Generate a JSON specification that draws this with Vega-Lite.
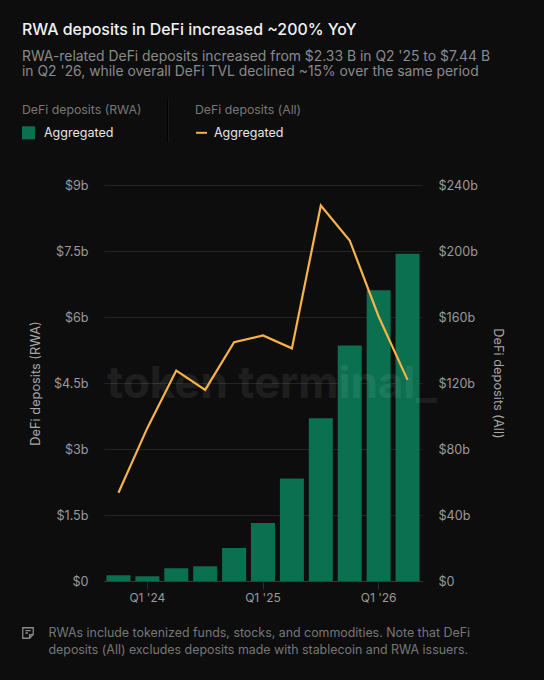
{
"$schema":"https://vega.github.io/schema/vega-lite/v6.json",
"width":318,"height":396,
"autosize":{"type":"none"},
"padding":{"left":104,"top":185,"right":122,"bottom":99},
"background":"#0d0d0d",
"config":{"font":"Inter","view":{"stroke":null}},
"title":{"text":"RWA deposits in DeFi increased ~200% YoY","subtitle":["RWA-related DeFi deposits increased from $2.33 B in Q2 '25 to $7.44 B","in Q2 '26, while overall DeFi TVL declined ~15% over the same period"],
"anchor":"start","frame":"group","dx":-82,"offset":20,"font":"Inter","fontSize":15.9,"fontWeight":500,"color":"#f2f2f2","subtitleFont":"Inter","subtitleFontSize":13.9,"subtitleColor":"#8a8a8a","subtitleLineHeight":15,"subtitlePadding":12},
"data":{"values":[
{"quarter":"Q4 '23","rwa":0.13,"all":53.5},
{"quarter":"Q1 '24","rwa":0.107,"all":92.8},
{"quarter":"Q2 '24","rwa":0.29,"all":127.5},
{"quarter":"Q3 '24","rwa":0.334,"all":115.8},
{"quarter":"Q4 '24","rwa":0.75,"all":144.7},
{"quarter":"Q1 '25","rwa":1.32,"all":148.8},
{"quarter":"Q2 '25","rwa":2.33,"all":141},
{"quarter":"Q3 '25","rwa":3.7,"all":227.6},
{"quarter":"Q4 '25","rwa":5.35,"all":206.4},
{"quarter":"Q1 '26","rwa":6.61,"all":160.3},
{"quarter":"Q2 '26","rwa":7.44,"all":121.9}
]},
"encoding":{"x":{"field":"quarter","type":"ordinal","sort":null,"scale":{"paddingInner":0.17,"paddingOuter":0.085},
"axis":{"values":["Q1 '24","Q1 '25","Q1 '26"],"labelAngle":0,"labelFontSize":12,"labelColor":"#9a9a9a","labelPadding":3,"tickColor":"#2c2c2c","tickSize":8,"domainColor":"#3a3a3a","grid":false,
"title":["RWAs include tokenized funds, stocks, and commodities. Note that DeFi","deposits (All) excludes deposits made with stablecoin and RWA issuers."],
"titleFontSize":12.4,"titleFontWeight":400,"titleColor":"#777777","titleAlign":"left","titleAnchor":"start","titleBaseline":"middle","titleX":-56,"titleY":51,"titleLineHeight":17}}},
"layer":[
{"layer":[
{"mark":{"type":"bar","color":"#0a7050"},
"encoding":{"y":{"field":"rwa","type":"quantitative","scale":{"domain":[0,9]},
"axis":{"title":"DeFi deposits (RWA)","orient":"left","values":[0,1.5,3,4.5,6,7.5,9],"labelExpr":"datum.value === 0 ? '$0' : '$' + datum.value + 'b'","labelFontSize":12.6,"labelColor":"#9a9a9a","labelPadding":16,"ticks":false,"domain":false,"grid":true,"gridColor":"#242424","titleFontSize":12.8,"titleFontWeight":400,"titleColor":"#a8a8a8","titlePadding":11}},
"fill":{"datum":"Aggregated","scale":{"domain":["Aggregated"],"range":["#0a7050"]},
"legend":{"orient":"none","legendX":-82,"legendY":-81,"title":"DeFi deposits (RWA)","titleFontSize":12.3,"titleFontWeight":400,"titleColor":"#777777","titlePadding":10,"labelFontSize":12.5,"labelColor":"#e6e6e6","labelOffset":9,"symbolType":"square","symbolSize":169,"symbolStrokeWidth":0}}}},
{"transform":[{"filter":"datum.quarter === \"Q1 '25\""},{"calculate":"'token terminal_'","as":"mark"}],
"mark":{"type":"text","font":"Inter","fontWeight":700,"fontSize":44,"color":"#ffffff","opacity":0.07,"dx":9,"align":"center","baseline":"middle"},
"encoding":{"text":{"field":"mark"},"y":{"datum":4.45,"type":"quantitative"}}},
{"mark":{"type":"rule","color":"#1a1a1a","clip":false},
"encoding":{"x":{"datum":"Q1 '24","bandPosition":1.38,"type":"ordinal"},"y":{"datum":10.94,"type":"quantitative"},"y2":{"datum":9.98}}},
{"transform":[{"filter":"datum.quarter === \"Q1 '25\""}],
"mark":{"type":"point","opacity":0,"filled":false},
"encoding":{"y":{"datum":1,"type":"quantitative"},
"shape":{"datum":"note","scale":{"domain":["note"],"range":["M-1,-1H1V0.3L0.3,1H-1ZM1,0.3H0.3V1M-0.5,-0.45H0.5M-0.5,0H0"]},
"legend":{"orient":"none","legendX":-82,"legendY":442,"title":null,"labelExpr":"''","symbolSize":110,"symbolOpacity":1,"symbolFillColor":"transparent","symbolStrokeColor":"#8a8a8a","symbolStrokeWidth":1.3}}}}
]},
{"mark":{"type":"line","color":"#f7b24a","strokeWidth":2.2},
"encoding":{"y":{"field":"all","type":"quantitative","scale":{"domain":[0,240]},
"axis":{"title":"DeFi deposits (All)","orient":"right","values":[0,40,80,120,160,200,240],"labelExpr":"datum.value === 0 ? '$0' : '$' + datum.value + 'b'","labelFontSize":12.6,"labelColor":"#9a9a9a","labelPadding":16,"ticks":false,"domain":false,"grid":false,"titleFontSize":12.8,"titleFontWeight":400,"titleColor":"#a8a8a8","titlePadding":13}},
"stroke":{"datum":"Aggregated","scale":{"domain":["Aggregated"],"range":["#f7b24a"]},
"legend":{"orient":"none","legendX":91,"legendY":-81,"title":"DeFi deposits (All)","titleFontSize":12.3,"titleFontWeight":400,"titleColor":"#777777","titlePadding":10,"labelFontSize":12.5,"labelColor":"#e6e6e6","labelOffset":6,"symbolType":"stroke","symbolSize":120,"symbolStrokeWidth":2}}}}
],
"resolve":{"scale":{"y":"independent"},"legend":{"fill":"independent","stroke":"independent","shape":"independent"}}
}
